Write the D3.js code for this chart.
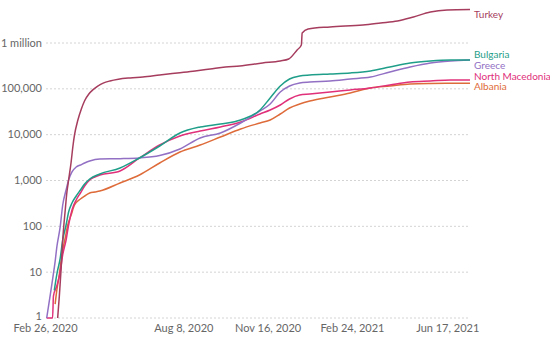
<!DOCTYPE html>
<html>
<head>
<meta charset="utf-8">
<script src="https://cdn.jsdelivr.net/npm/d3@7"></script>
<style>
	body { margin: 0; background: #fff; }
	svg { display: block; font-family: Lato, "Open Sans", sans-serif; }
</style>
</head>
<body>
<div id="chart"></div>
<script>
// cumulative confirmed cases
var countries = ["Turkey", "Bulgaria", "Greece", "North Macedonia", "Albania"];

var turkey = [
	["2020-03-12", 1], ["2020-03-14", 3], ["2020-03-16", 11], ["2020-03-18", 50], ["2020-03-21", 227],
	["2020-03-23", 561], ["2020-03-25", 1026], ["2020-03-28", 2535], ["2020-03-30", 5385], ["2020-04-01", 9840],
	["2020-04-05", 20900], ["2020-04-09", 36000], ["2020-04-13", 55000], ["2020-04-18", 77200], ["2020-04-23", 96000],
	["2020-04-29", 116000], ["2020-05-05", 133000], ["2020-05-13", 148400], ["2020-05-23", 162000], ["2020-06-06", 173000],
	["2020-06-21", 181200], ["2020-07-11", 200400], ["2020-08-01", 221700], ["2020-08-22", 245000], ["2020-09-09", 271000],
	["2020-09-27", 300000], ["2020-10-14", 315500], ["2020-11-10", 366700], ["2020-12-01", 405300], ["2020-12-11", 448000],
	["2020-12-21", 704000], ["2020-12-26", 905000], ["2020-12-27", 1655000], ["2021-01-03", 2020000], ["2021-01-29", 2240000],
	["2021-03-09", 2470000], ["2021-03-30", 2730000], ["2021-04-19", 3020000], ["2021-05-08", 3700000], ["2021-05-28", 4750000],
	["2021-06-17", 5250000], ["2021-07-14", 5380000]
];

var bulgaria = [
	["2020-03-08", 4], ["2020-03-11", 9], ["2020-03-15", 20], ["2020-03-18", 50], ["2020-03-22", 107],
	["2020-03-25", 206], ["2020-03-29", 323], ["2020-04-03", 459], ["2020-04-08", 621], ["2020-04-13", 839],
	["2020-04-19", 1080], ["2020-05-01", 1387], ["2020-05-25", 1875], ["2020-06-17", 3100], ["2020-07-11", 5660],
	["2020-08-04", 10880], ["2020-08-28", 14710], ["2020-09-21", 17100], ["2020-10-15", 20900], ["2020-11-07", 34570],
	["2020-11-19", 63100], ["2020-12-01", 115300], ["2020-12-12", 164000], ["2020-12-24", 190500], ["2021-01-05", 200400],
	["2021-01-29", 210800], ["2021-02-22", 221700], ["2021-03-18", 245000], ["2021-04-10", 300000], ["2021-05-04", 366700],
	["2021-05-28", 405300], ["2021-06-21", 425800], ["2021-07-14", 428000]
];

var greece = [
	["2020-02-28", 1], ["2020-03-03", 3], ["2020-03-06", 7], ["2020-03-09", 17], ["2020-03-11", 35],
	["2020-03-15", 97], ["2020-03-18", 292], ["2020-03-22", 621], ["2020-03-25", 1026], ["2020-03-29", 1535],
	["2020-04-03", 1972], ["2020-04-08", 2180], ["2020-04-13", 2410], ["2020-04-19", 2665], ["2020-05-01", 2946],
	["2020-05-25", 2990], ["2020-06-17", 3100], ["2020-07-11", 3500], ["2020-08-04", 4870], ["2020-08-28", 8470],
	["2020-09-21", 10880], ["2020-10-15", 17980], ["2020-11-07", 32860], ["2020-11-19", 46700], ["2020-12-01", 85300],
	["2020-12-12", 115300], ["2020-12-24", 134200], ["2021-01-05", 141000], ["2021-01-29", 148400], ["2021-02-22", 164000],
	["2021-03-18", 181200], ["2021-04-10", 233200], ["2021-05-04", 300000], ["2021-05-28", 366700], ["2021-06-21", 405300],
	["2021-07-14", 425800]
];

var northMacedonia = [
	["2020-02-28", 1], ["2020-03-06", 1], ["2020-03-07", 3], ["2020-03-11", 5], ["2020-03-15", 10],
	["2020-03-18", 24], ["2020-03-22", 50], ["2020-03-25", 107], ["2020-03-29", 227], ["2020-04-03", 376],
	["2020-04-08", 534], ["2020-04-13", 759], ["2020-04-19", 1026], ["2020-04-25", 1193], ["2020-05-01", 1319],
	["2020-05-25", 1612], ["2020-06-17", 3100], ["2020-07-11", 5953], ["2020-08-04", 9350], ["2020-08-28", 12020],
	["2020-09-21", 14710], ["2020-10-15", 18900], ["2020-11-07", 28250], ["2020-11-19", 34570], ["2020-12-01", 44440],
	["2020-12-12", 60000], ["2020-12-24", 73400], ["2021-01-05", 77200], ["2021-01-29", 85300], ["2021-02-22", 94400],
	["2021-03-18", 104400], ["2021-04-10", 121400], ["2021-05-04", 141000], ["2021-05-28", 148400], ["2021-06-21", 156000],
	["2021-07-14", 156500]
];

var albania = [
	["2020-03-09", 2], ["2020-03-11", 4], ["2020-03-14", 9], ["2020-03-16", 17], ["2020-03-18", 30],
	["2020-03-21", 56], ["2020-03-24", 107], ["2020-03-28", 177], ["2020-04-01", 292], ["2020-04-08", 395],
	["2020-04-13", 459], ["2020-04-19", 534], ["2020-04-25", 561], ["2020-05-01", 590], ["2020-05-25", 883],
	["2020-06-17", 1319], ["2020-07-11", 2410], ["2020-08-04", 4190], ["2020-08-28", 5953], ["2020-09-21", 8890],
	["2020-10-15", 13300], ["2020-11-07", 17980], ["2020-11-19", 20900], ["2020-12-01", 28250], ["2020-12-12", 38200],
	["2020-12-24", 46700], ["2021-01-05", 54300], ["2021-01-29", 66400], ["2021-02-22", 81200], ["2021-03-18", 104400],
	["2021-04-10", 115300], ["2021-05-04", 127600], ["2021-05-28", 131000], ["2021-06-21", 132000], ["2021-07-14", 132500]
];

var seriesData = [turkey, bulgaria, greece, northMacedonia, albania];
var colors = ["#a63d5e", "#1f9e89", "#9270c4", "#e0307a", "#de6b3a"];

var xTicks = ["2020-02-26", "2020-08-08", "2020-11-16", "2021-02-24", "2021-06-17"];
var yTicks = [1, 10, 100, 1000, 10000, 100000, 1000000];
var yTickLabels = ["1", "10", "100", "1,000", "10,000", "100,000", "1 million"];

var width = 550, height = 344;
var plotLeft = 45, plotRight = 470, plotTop = 43, plotBottom = 318;

var parse = d3.utcParse("%Y-%m-%d");
var fmt = d3.utcFormat("%b %-d, %Y");

var x = d3.scaleUtc()
	.domain([parse("2020-02-26"), parse("2021-07-14")])
	.range([plotLeft, plotRight]);

var y = d3.scaleLog()
	.domain([1, 1000000])
	.range([plotBottom, plotTop]);

var svg = d3.select("#chart").append("svg")
	.attr("width", width)
	.attr("height", height);

// horizontal grid + y labels
var grid = svg.append("g");
grid.selectAll("line")
	.data(yTicks)
	.enter().append("line")
		.attr("x1", plotLeft + 1)
		.attr("x2", plotRight)
		.attr("y1", function(d) { return y(d) })
		.attr("y2", function(d) { return y(d) })
		.style("stroke", "#d4d4d4")
		.style("stroke-width", "1px")
		.style("stroke-dasharray", "2,2");

grid.selectAll("text")
	.data(yTicks)
	.enter().append("text")
		.attr("x", plotLeft - 3)
		.attr("y", function(d) { return y(d) })
		.attr("dy", function(d) { return d == 1 ? "0.2em" : "0.33em" })
		.attr("text-anchor", "end")
		.style("font-size", "11px")
		.style("fill", "#666")
		.text(function(d, i) { return yTickLabels[i] });

// x axis labels only, no domain line
svg.append("g")
	.attr("transform", "translate(0," + plotBottom + ")")
	.call(d3.axisBottom(x)
		.tickValues(xTicks.map(parse))
		.tickFormat(fmt)
		.tickSize(0)
		.tickPadding(6))
	.call(function(g) { g.select(".domain").remove() })
	.call(function(g) {
		g.selectAll("text")
			.style("font-family", "Lato, sans-serif")
			.style("font-size", "11px")
			.style("fill", "#666");
	});

var line = d3.line()
	.x(function(d) { return x(parse(d[0])) })
	.y(function(d) { return y(d[1]) })
	.curve(d3.curveMonotoneX);

// draw back to front so Turkey ends up on top
for (var i = seriesData.length - 1; i >= 0; i--)
{
	svg.append("path")
		.datum(seriesData[i])
		.attr("d", line)
		.style("fill", "none")
		.style("stroke", colors[i])
		.style("stroke-width", "1.5px")
		.style("stroke-linejoin", "round");
}

// end labels, pushed apart so they don't collide
var labels = countries.map(function(name, i) {
	var last = seriesData[i][seriesData[i].length - 1];
	return { name: name, color: colors[i], y: Math.max(14, y(last[1])) };
});
labels.sort(function(a, b) { return a.y - b.y });
var gap = 10.5;
for (var iter = 0; iter < 60; iter++)
{
	for (var j = 1; j < labels.length; j++)
	{
		var overlap = gap - (labels[j].y - labels[j - 1].y);
		if (overlap > 0) {
			labels[j - 1].y -= overlap / 2;
			labels[j].y += overlap / 2;
		}
	}
}

svg.append("g").selectAll("text")
	.data(labels)
	.enter().append("text")
		.attr("x", plotRight + 4)
		.attr("y", function(d) { return d.y })
		.attr("dy", "0.35em")
		.style("font-size", "10px")
		.style("fill", function(d) { return d.color })
		.text(function(d) { return d.name });
</script>
</body>
</html>
